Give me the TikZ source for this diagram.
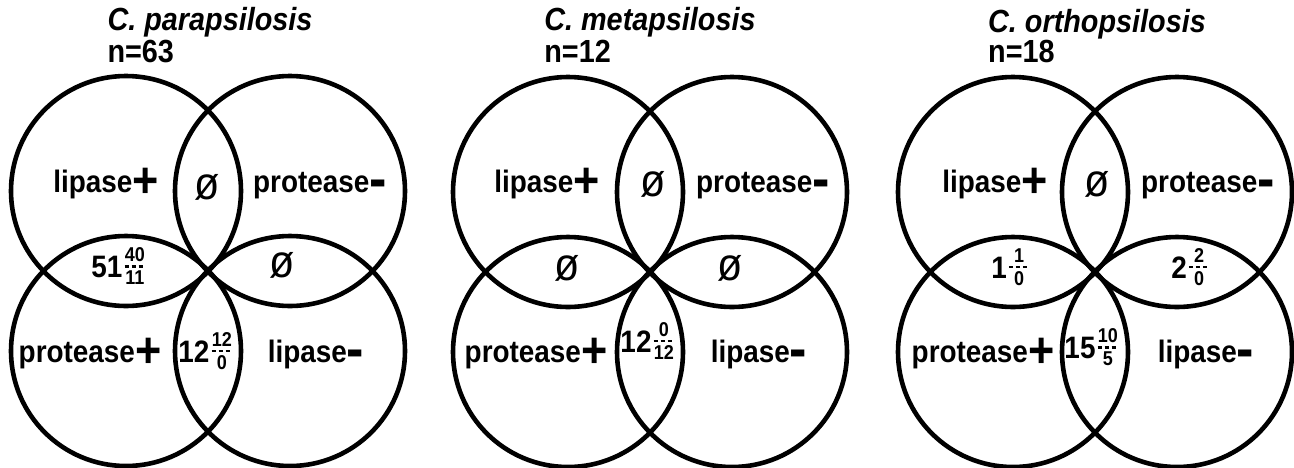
\documentclass[tikz,border=0pt]{standalone}
\usepackage{fontspec}
\setmainfont{Liberation Sans}[FakeStretch=0.9]
\usetikzlibrary{positioning}

\tikzset{
  ring/.style={line width=4.6pt},
  lbl/.style={font=\fontsize{31}{31}\selectfont\bfseries, inner sep=0pt, anchor=base},
  num/.style={font=\fontsize{31}{31}\selectfont\bfseries, inner sep=0pt, anchor=base},
  frc/.style={font=\fontsize{20}{23}\selectfont\bfseries, align=center, inner sep=0pt, minimum width=20pt},
  fbar/.style={line width=2.2pt, dash pattern=on 4pt off 3pt},
  nil/.style={font=\fontsize{46}{46}\selectfont, inner sep=0pt},
  ttl/.style={font=\fontsize{32}{32}\selectfont\bfseries\itshape, inner sep=0pt, anchor=base},
  ncount/.style={font=\fontsize{32}{32}\selectfont\bfseries, inner sep=0pt, anchor=base west}
}
\newcommand\pls{{\fontsize{50}{50}\selectfont\raisebox{-5pt}{+}}}
\newcommand\mns{{\fontsize{58}{58}\selectfont\raisebox{-6pt}{-}}}

\begin{document}
\begin{tikzpicture}[x=1pt,y=-1pt]
\useasboundingbox (0,0) rectangle (1294,467);

% C. parapsilosis
\begin{scope}[shift={(208,271)}]
\draw[ring] (-82,-80) circle[radius=115pt];
\draw[ring] (82,-80) circle[radius=115pt];
\draw[ring] (-82,80) circle[radius=115pt];
\draw[ring] (82,80) circle[radius=115pt];
\node[ttl] (t1) at (2,-241) {C. parapsilosis};
\node[ncount] (n1) at (t1.west |- 0,-209) {n=63};
\node[lbl] (a1) at (-102,-79) {lipase\pls};
\node[nil] (b1) at (-1,-84) {ø};
\node[lbl] (c1) at (112,-79) {protease\mns};
\node[num] (d1) at (-101,6) {51};
\node[frc,right=2pt of d1] (d1f) {40\\11};
\draw[fbar] (d1f.west) -- (d1f.east);
\node[nil] (e1) at (74,-6) {ø};
\node[lbl] (f1) at (-118,91) {protease\pls};
\node[num] (g1) at (-14,91) {12};
\node[frc,right=2pt of g1] (g1f) {12\\0};
\draw[fbar] (g1f.west) -- (g1f.east);
\node[lbl] (h1) at (108,91) {lipase\mns};
\end{scope}

% C. metapsilosis
\begin{scope}[shift={(650,272)}]
\draw[ring] (-82,-80) circle[radius=115pt];
\draw[ring] (82,-80) circle[radius=115pt];
\draw[ring] (-82,80) circle[radius=115pt];
\draw[ring] (82,80) circle[radius=115pt];
\node[ttl] (t2) at (0,-242) {C. metapsilosis};
\node[ncount] (n2) at (t2.west |- 0,-210) {n=12};
\node[lbl] (a2) at (-103,-80) {lipase\pls};
\node[nil] (b2) at (3,-88) {ø};
\node[lbl] (c2) at (113,-80) {protease\mns};
\node[nil] (d2) at (-83,-4) {ø};
\node[nil] (e2) at (80,-4) {ø};
\node[lbl] (f2) at (-114,90) {protease\pls};
\node[num] (g2) at (-14,80) {12};
\node[frc,right=2pt of g2] (g2f) {0\\12};
\draw[fbar] (g2f.west) -- (g2f.east);
\node[lbl] (h2) at (109,90) {lipase\mns};
\end{scope}

% C. orthopsilosis
\begin{scope}[shift={(1095,272)}]
\draw[ring] (-82,-80) circle[radius=115pt];
\draw[ring] (82,-80) circle[radius=115pt];
\draw[ring] (-82,80) circle[radius=115pt];
\draw[ring] (82,80) circle[radius=115pt];
\node[ttl] (t3) at (2,-240) {C. orthopsilosis};
\node[ncount] (n3) at (t3.west |- 0,-210) {n=18};
\node[lbl] (a3) at (-100,-80) {lipase\pls};
\node[nil] (b3) at (2,-88) {ø};
\node[lbl] (c3) at (113,-80) {protease\mns};
\node[num] (d3) at (-96,6) {1};
\node[frc,right=2pt of d3] (d3f) {1\\0};
\draw[fbar] (d3f.west) -- (d3f.east);
\node[num] (e3) at (84,6) {2};
\node[frc,right=2pt of e3] (e3f) {2\\0};
\draw[fbar] (e3f.west) -- (e3f.east);
\node[lbl] (f3) at (-112,90) {protease\pls};
\node[num] (g3) at (-15,86) {15};
\node[frc,right=2pt of g3] (g3f) {10\\5};
\draw[fbar] (g3f.west) -- (g3f.east);
\node[lbl] (h3) at (111,90) {lipase\mns};
\end{scope}
\end{tikzpicture}
\end{document}
